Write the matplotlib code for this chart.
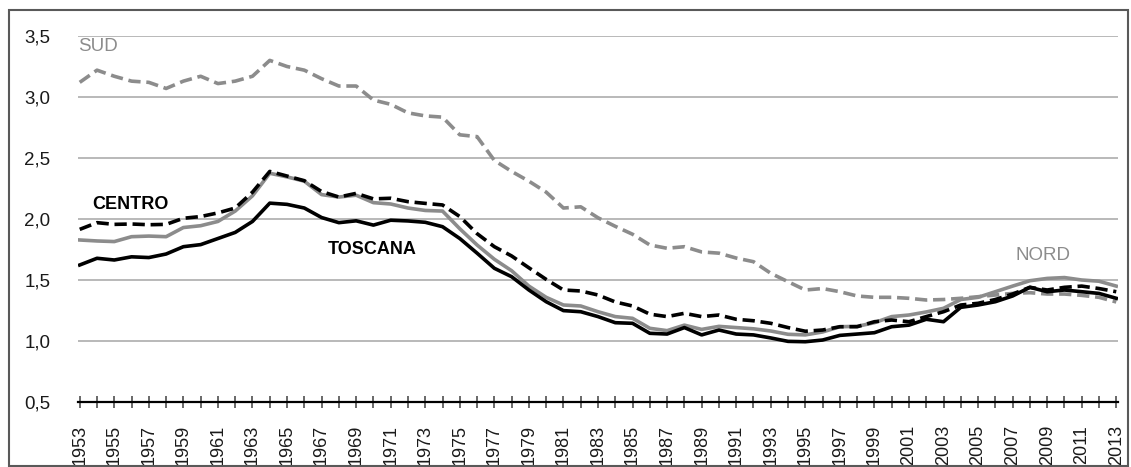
import matplotlib
matplotlib.use("Agg")
import matplotlib.pyplot as plt
from matplotlib import font_manager
from matplotlib.patches import Rectangle
from matplotlib.ticker import FixedLocator, FuncFormatter

years = list(range(1953, 2014))

sud = [3.12, 3.22, 3.17, 3.13, 3.12, 3.07, 3.13, 3.17, 3.11, 3.13,
       3.17, 3.30, 3.25, 3.22, 3.15, 3.09, 3.09, 2.975, 2.94, 2.87,
       2.845, 2.835, 2.69, 2.675, 2.48, 2.39, 2.31, 2.22, 2.09, 2.10,
       2.01, 1.94, 1.875, 1.787, 1.76, 1.773, 1.73, 1.72, 1.68, 1.65,
       1.555, 1.486, 1.418, 1.43, 1.404, 1.369, 1.358, 1.358, 1.35, 1.336,
       1.34, 1.35, 1.363, 1.377, 1.39, 1.396, 1.385, 1.385, 1.374, 1.358,
       1.32]

centro = [1.915, 1.97, 1.956, 1.959, 1.953, 1.956, 2.006, 2.02, 2.05, 2.09,
          2.22, 2.39, 2.352, 2.314, 2.225, 2.18, 2.21, 2.165, 2.17, 2.142,
          2.128, 2.115, 2.02, 1.88, 1.773, 1.697, 1.60, 1.505, 1.418, 1.41,
          1.377, 1.32, 1.287, 1.22, 1.20, 1.227, 1.20, 1.213, 1.178, 1.166,
          1.145, 1.11, 1.08, 1.09, 1.117, 1.117, 1.158, 1.172, 1.158, 1.20,
          1.24, 1.295, 1.309, 1.34, 1.385, 1.44, 1.418, 1.44, 1.45, 1.43,
          1.404]

nord = [1.828, 1.82, 1.815, 1.855, 1.86, 1.855, 1.93, 1.945, 1.98, 2.065,
        2.19, 2.375, 2.345, 2.31, 2.20, 2.18, 2.195, 2.134, 2.123, 2.09,
        2.07, 2.065, 1.92, 1.787, 1.67, 1.576, 1.45, 1.358, 1.295, 1.287,
        1.24, 1.20, 1.186, 1.104, 1.085, 1.13, 1.095, 1.12, 1.11, 1.10,
        1.082, 1.055, 1.05, 1.074, 1.117, 1.12, 1.15, 1.20, 1.213, 1.238,
        1.268, 1.34, 1.358, 1.404, 1.45, 1.494, 1.513, 1.52, 1.50, 1.49,
        1.45]

toscana = [1.623, 1.678, 1.664, 1.69, 1.684, 1.713, 1.773, 1.79, 1.84, 1.89,
           1.98, 2.13, 2.12, 2.09, 2.012, 1.97, 1.985, 1.95, 1.99, 1.984,
           1.973, 1.937, 1.84, 1.72, 1.596, 1.527, 1.418, 1.322, 1.249, 1.24,
           1.20, 1.15, 1.145, 1.063, 1.057, 1.11, 1.05, 1.09, 1.057, 1.05,
           1.025, 0.997, 0.994, 1.008, 1.046, 1.057, 1.068, 1.117, 1.13, 1.178,
           1.158, 1.276, 1.295, 1.322, 1.369, 1.44, 1.404, 1.418, 1.404, 1.39,
           1.35]

y_ticks = [0.5, 1.0, 1.5, 2.0, 2.5, 3.0, 3.5]
label_years = list(range(1953, 2014, 2))

names = {f.name for f in font_manager.fontManager.ttflist}
fam = "Liberation Sans Narrow" if "Liberation Sans Narrow" in names else "Liberation Sans"
plt.rcParams['font.family'] = [fam, 'DejaVu Sans']

W, H = 1131, 467
fig = plt.figure(figsize=(W / 100, H / 100), dpi=100)
ax = fig.add_axes([78 / W, (H - 402) / H, (1118 - 78) / W, (402 - 36) / H])

gray = '#8c8c8c'
lw = 2.6
dash = (3.4, 1.6)
ax.plot(years, sud, color=gray, lw=lw, dashes=dash, zorder=3)
ax.plot(years, nord, color=gray, lw=lw, zorder=3)
ax.plot(years, toscana, color='black', lw=lw, zorder=4)
ax.plot(years, centro, color='black', lw=lw, dashes=dash, zorder=5)

ax.set_xlim(1953 - 0.1, 2013 + 0.1)
ax.set_ylim(0.5, 3.5)

for y in y_ticks[1:]:
    ax.axhline(y, color='#a6a6a6', lw=1.1, zorder=1)

for s in ['top', 'right', 'left']:
    ax.spines[s].set_visible(False)
ax.spines['bottom'].set_color('black')
ax.spines['bottom'].set_linewidth(1.6)

ax.set_yticks(y_ticks)
ax.yaxis.set_major_formatter(FuncFormatter(lambda v, p: f"{v:.1f}".replace('.', ',')))
ax.tick_params(axis='y', length=0, pad=20, labelsize=13.5, labelcolor='#1a1a1a')

ax.xaxis.set_major_locator(FixedLocator(label_years))
ax.xaxis.set_minor_locator(FixedLocator(years))
ax.set_xticklabels([str(y) for y in label_years], rotation=90)
ax.tick_params(axis='x', which='both', direction='inout', length=9, width=1.1,
               color='#404040')
ax.tick_params(axis='x', which='major', pad=12, labelsize=13, labelcolor='#1a1a1a')
for t in ax.get_xticklabels():
    t.set_verticalalignment('top')

ax.text(1952.9, 3.41, 'SUD', color=gray, fontsize=13.5, va='center', ha='left')
ax.text(1953.7, 2.12, 'CENTRO', color='black', fontsize=13, fontweight='bold',
        va='center', ha='left')
ax.text(1967.35, 1.75, 'TOSCANA', color='black', fontsize=13, fontweight='bold',
        va='center', ha='left')
ax.text(2007.15, 1.70, 'NORD', color=gray, fontsize=13.5, va='center', ha='left')

fig.patches.append(Rectangle((9 / W, 1 / H), (1128 - 9) / W, (466 - 10) / H,
                             transform=fig.transFigure, fill=False,
                             edgecolor='#595959', lw=1.5))

fig.savefig('out.png', dpi=100)
